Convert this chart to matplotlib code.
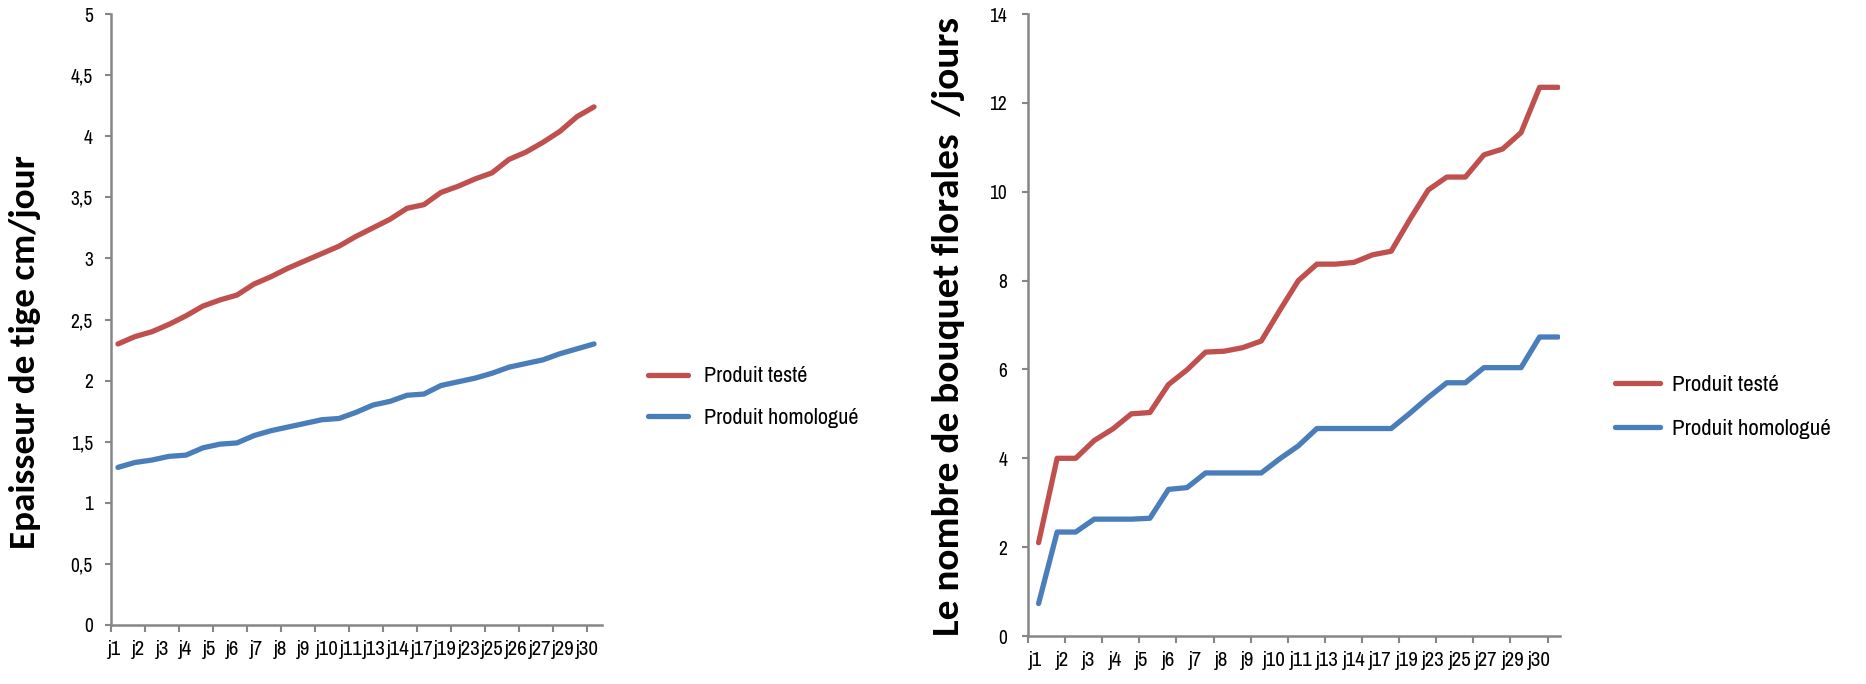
import numpy as np
import matplotlib
matplotlib.use("Agg")
import matplotlib.pyplot as plt
from matplotlib import font_manager

# -- data
left_days = ['j1', 'j2', 'j3', 'j4', 'j5', 'j6', 'j7', 'j8', 'j9', 'j10', 'j11',
             'j13', 'j14', 'j17', 'j19', 'j23', 'j25', 'j26', 'j27', 'j29', 'j30']
left_teste = [2.30, 2.36, 2.40, 2.46, 2.53, 2.61, 2.66, 2.70, 2.79, 2.85, 2.92, 2.98,
              3.04, 3.10, 3.18, 3.25, 3.32, 3.41, 3.44, 3.54, 3.59, 3.65, 3.70, 3.81,
              3.87, 3.95, 4.04, 4.16, 4.24]
left_homol = [1.29, 1.33, 1.35, 1.38, 1.39, 1.45, 1.48, 1.49, 1.55, 1.59, 1.62, 1.65,
              1.68, 1.69, 1.74, 1.80, 1.83, 1.88, 1.89, 1.96, 1.99, 2.02, 2.06, 2.11,
              2.14, 2.17, 2.22, 2.26, 2.30]

right_days = ['j1', 'j2', 'j3', 'j4', 'j5', 'j6', 'j7', 'j8', 'j9', 'j10', 'j11',
              'j13', 'j14', 'j17', 'j19', 'j23', 'j25', 'j27', 'j29', 'j30']
right_teste = [2.1, 4.0, 4.0, 4.4, 4.66, 5.0, 5.03, 5.66, 5.99, 6.39, 6.41, 6.49,
               6.64, 7.33, 8.0, 8.37, 8.37, 8.41, 8.58, 8.66, 9.37, 10.04, 10.33,
               10.33, 10.83, 10.96, 11.33, 12.35, 12.35]
right_homol = [0.73, 2.34, 2.34, 2.63, 2.63, 2.63, 2.65, 3.30, 3.34, 3.67, 3.67, 3.67,
               3.67, 3.99, 4.28, 4.67, 4.67, 4.67, 4.67, 4.67, 5.01, 5.37, 5.70, 5.70,
               6.04, 6.04, 6.04, 6.73, 6.73]

series_names = ['Produit testé', 'Produit homologué']
red = '#C0504D'
blue = '#4A7EBB'
gray = '#868686'

# -- fonts: narrow sans for the squeezed Excel look
names = {f.name for f in font_manager.fontManager.ttflist}
narrow = 'Archivo Narrow' if 'Archivo Narrow' in names else 'Liberation Sans'
boldfont = 'Carlito' if 'Carlito' in names else 'Lato'

fig = plt.figure(figsize=(18.66, 6.84), dpi=100)


def style_axes(ax, xlim, ylim, yticks, ylabels, days, label_span, tick_start, ypad):
    for s in ['top', 'right']:
        ax.spines[s].set_visible(False)
    for s in ['left', 'bottom']:
        ax.spines[s].set_color(gray)
        ax.spines[s].set_linewidth(1.8)
    ax.set_xlim(*xlim)
    ax.set_ylim(*ylim)
    ax.set_yticks(yticks)
    ax.set_yticklabels(ylabels, family=narrow, fontsize=14)
    ax.tick_params(axis='y', direction='out', length=4, width=1.5, color=gray, pad=ypad)
    # tick marks every two days, labels squeezed in between
    ax.set_xticks(np.arange(tick_start, xlim[1], 2))
    ax.set_xticklabels([])
    ax.tick_params(axis='x', which='major', direction='out', length=5, width=1.5, color=gray)
    ax.set_xticks(np.linspace(label_span[0], label_span[1], len(days)), minor=True)
    ax.set_xticklabels(days, minor=True, family=narrow, fontsize=15)
    ax.tick_params(axis='x', which='minor', length=0, pad=11)


def fit_label(txt, target_px):
    # scale the font so the rotated label spans the same length as in the picture
    fig.canvas.draw()
    h = txt.get_window_extent().height
    txt.set_fontsize(txt.get_fontsize() * target_px / h)


# -- left chart
ax1 = fig.add_axes([111 / 1866, 1 - 625 / 684, 491 / 1866, 611 / 684])
x1 = np.arange(len(left_teste))
ax1.plot(x1, left_teste, color=red, lw=3.8, solid_capstyle='round', label=series_names[0])
ax1.plot(x1, left_homol, color=blue, lw=3.8, solid_capstyle='round', label=series_names[1])
style_axes(ax1, (-0.41, 28.47), (0, 5), np.arange(0, 5.01, 0.5),
           ['0', '0,5', '1', '1,5', '2', '2,5', '3', '3,5', '4', '4,5', '5'],
           left_days, (-0.18, 27.6), -0.41, 9)
lab1 = fig.text(25 / 1866, 1 - 352 / 684, 'Epaisseur de tige cm/jour', rotation=90,
                ha='center', va='center', family=boldfont, fontweight='bold', fontsize=20)
fig.legend(handles=ax1.get_lines(), loc='center left', bbox_to_anchor=(648 / 1866, 1 - 397 / 684),
           frameon=False, borderpad=0, borderaxespad=0, handlelength=1.8, handletextpad=0.7,
           labelspacing=0.95, prop={'family': narrow, 'size': 16})

# -- right chart
ax2 = fig.add_axes([1028 / 1866, 1 - 636 / 684, 532 / 1866, 622 / 684])
x2 = np.arange(len(right_teste))
ax2.plot(x2, right_teste, color=red, lw=3.8, solid_capstyle='round', label=series_names[0])
ax2.plot(x2, right_homol, color=blue, lw=3.8, solid_capstyle='round', label=series_names[1])
style_axes(ax2, (-0.57, 28.1), (0, 14), np.arange(0, 14.1, 2),
           [str(v) for v in range(0, 15, 2)],
           right_days, (-0.14, 27.0), -0.57, 11)
lab2 = fig.text(948 / 1866, 1 - 327 / 684, 'Le nombre de bouquet florales  /jours', rotation=90,
                ha='center', va='center', family=boldfont, fontweight='bold', fontsize=20)
fig.legend(handles=ax2.get_lines(), loc='center left', bbox_to_anchor=(1615 / 1866, 1 - 407 / 684),
           frameon=False, borderpad=0, borderaxespad=0, handlelength=1.95, handletextpad=0.55,
           labelspacing=1.05, prop={'family': narrow, 'size': 16.5})

fit_label(lab1, 393)
fit_label(lab2, 618)

fig.savefig('out.png', dpi=100)
